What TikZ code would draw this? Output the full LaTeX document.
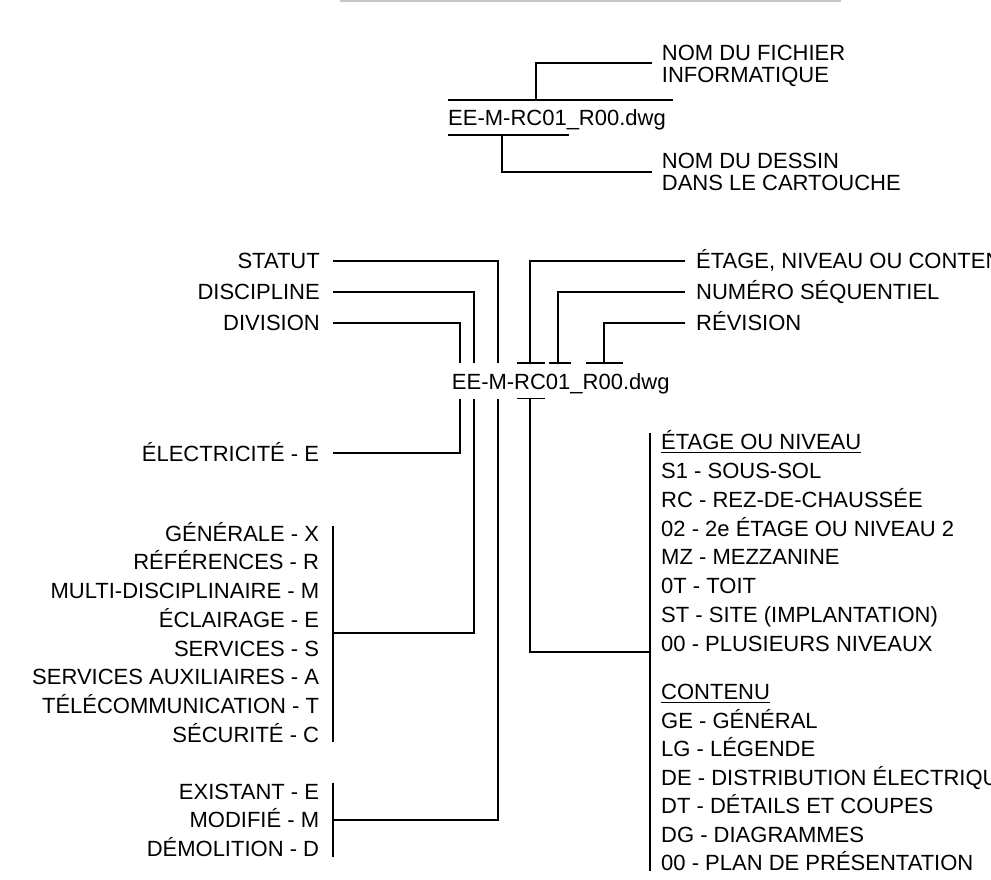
\documentclass[tikz,border=0pt]{standalone}
\usepackage{fontspec}
\setmainfont{Liberation Sans}
\begin{document}
\begin{tikzpicture}[x=1pt,y=-1pt,
  lbl/.style={font=\fontsize{22}{26}\selectfont, inner sep=0pt, anchor=base west, text=black},
  lblr/.style={lbl, anchor=base east},
  ln/.style={line width=1.8pt, line join=miter, draw=black},
  uline/.style={line width=1.3pt, draw=black},
  greyrule/.style={line width=2pt, draw=black!22}]
\useasboundingbox (0,0) rectangle (991,879);
\clip (0,0) rectangle (991,879);

% top rule
\coordinate (gr1) at (340,1); \coordinate (gr2) at (841,1);
\draw[greyrule] (gr1) -- (gr2);

% ---------- top section ----------
\node[lbl] (fnA) at (448,125.7) {EE-M-RC01\_R00.dwg};
\coordinate (ta1) at (448,100);   \coordinate (ta2) at (672.7,100);
\coordinate (tb1) at (448,134.7); \coordinate (tb2) at (569.3,134.7);
\draw[ln] (ta1) -- (ta2);
\draw[ln] (tb1) -- (tb2);
\node[lbl] (nomf1) at (661.7,60) {NOM DU FICHIER};
\node[lbl] (nomf2) at (661.7,82) {INFORMATIQUE};
\node[lbl] (nomd1) at (661.7,168.3) {NOM DU DESSIN};
\node[lbl] (nomd2) at (661.7,190) {DANS LE CARTOUCHE};
\coordinate (tf) at (535.7,100);  \coordinate (tfe) at (651.7,62.7);
\coordinate (td) at (502.3,134.7); \coordinate (tde) at (651.7,172.3);
\draw[ln] (tf) |- (tfe);
\draw[ln] (td) |- (tde);

% ---------- middle section ----------
\node[lbl] (fnB) at (451.7,389.3) {EE-M-RC01\_R00.dwg};

\node[lblr] (statut) at (320,268) {STATUT};
\node[lblr] (discipline) at (320,299) {DISCIPLINE};
\node[lblr] (division) at (320,330.5) {DIVISION};
\node[lbl] (etagenc) at (696,268) {ÉTAGE, NIVEAU OU CONTENU};
\node[lbl] (numseq) at (696,299) {NUMÉRO SÉQUENTIEL};
\node[lbl] (revision) at (696,330.5) {RÉVISION};

% left connectors above
\coordinate (sA) at (333.3,260.7); \coordinate (sB) at (498,363.3);
\coordinate (dA) at (333.3,291.7); \coordinate (dB) at (474.3,363.3);
\coordinate (vA) at (333.3,323.3); \coordinate (vB) at (460,363.3);
\draw[ln] (sA) -| (sB);
\draw[ln] (dA) -| (dB);
\draw[ln] (vA) -| (vB);

% right connectors above
\coordinate (eA) at (685,260.7); \coordinate (eB) at (530,363.3);
\coordinate (nA) at (685,291.7); \coordinate (nB) at (558.3,363.3);
\coordinate (rA) at (685,323.3); \coordinate (rB) at (604,363.3);
\draw[ln] (eA) -| (eB);
\draw[ln] (nA) -| (nB);
\draw[ln] (rA) -| (rB);
\coordinate (k1a) at (517.3,363.3); \coordinate (k1b) at (545,363.3);
\coordinate (k2a) at (549.3,363.3); \coordinate (k2b) at (570.7,363.3);
\coordinate (k3a) at (586,363.3);   \coordinate (k3b) at (622.7,363.3);
\draw[ln] (k1a) -- (k1b);
\draw[ln] (k2a) -- (k2b);
\draw[ln] (k3a) -- (k3b);

% below the file name
\coordinate (k4a) at (517.3,398.5); \coordinate (k4b) at (545,398.5);
\draw[ln] (k4a) -- (k4b);
\coordinate (eC) at (530,398.5);   \coordinate (eD) at (650,651.7);
\coordinate (vC) at (460,398.5);   \coordinate (vD) at (333.3,453.3);
\coordinate (dC) at (474.3,398.5); \coordinate (dD) at (333.3,633);
\coordinate (sC) at (498,398.5);   \coordinate (sD) at (333.3,820);
\draw[ln] (eC) |- (eD);
\draw[ln] (vC) |- (vD);
\draw[ln] (dC) |- (dD);
\draw[ln] (sC) |- (sD);

% brackets
\coordinate (b1a) at (333.3,526);   \coordinate (b1b) at (333.3,741.7);
\coordinate (b2a) at (333.3,783.3); \coordinate (b2b) at (333.3,856.7);
\coordinate (b3a) at (650,433.3);   \coordinate (b3b) at (650,870.7);
\draw[ln] (b1a) -- (b1b);
\draw[ln] (b2a) -- (b2b);
\draw[ln] (b3a) -- (b3b);

% left lists
\node[lblr] (elec) at (319.3,461) {ÉLECTRICITÉ - E};

\node[lblr] (l1) at (319.3,541.2) {GÉNÉRALE - X};
\node[lblr] (l2) at (319.3,569.9) {RÉFÉRENCES - R};
\node[lblr] (l3) at (319.3,598.6) {MULTI-DISCIPLINAIRE - M};
\node[lblr] (l4) at (319.3,627.3) {ÉCLAIRAGE - E};
\node[lblr] (l5) at (319.3,656) {SERVICES - S};
\node[lblr] (l6) at (319.3,684.7) {SERVICES AUXILIAIRES - A};
\node[lblr] (l7) at (319.3,713.4) {TÉLÉCOMMUNICATION - T};
\node[lblr] (l8) at (319.3,742.1) {SÉCURITÉ - C};

\node[lblr] (m1) at (319.3,799.6) {EXISTANT - E};
\node[lblr] (m2) at (319.3,827.9) {MODIFIÉ - M};
\node[lblr] (m3) at (319.3,856.2) {DÉMOLITION - D};

% right lists
\node[lbl] (h1) at (661,449.6) {ÉTAGE OU NIVEAU};
\draw[uline] ([yshift=-3pt]h1.base west) -- ([yshift=-3pt]h1.base east);
\node[lbl] (r1) at (661,478.4) {S1 - SOUS-SOL};
\node[lbl] (r2) at (661,507.2) {RC - REZ-DE-CHAUSSÉE};
\node[lbl] (r3) at (661,536) {02 - 2e ÉTAGE OU NIVEAU 2};
\node[lbl] (r4) at (661,564.8) {MZ - MEZZANINE};
\node[lbl] (r5) at (661,593.6) {0T - TOIT};
\node[lbl] (r6) at (661,622.4) {ST - SITE (IMPLANTATION)};
\node[lbl] (r7) at (661,651.2) {00 - PLUSIEURS NIVEAUX};

\node[lbl] (h2) at (661,699.6) {CONTENU};
\draw[uline] ([yshift=-3pt]h2.base west) -- ([yshift=-3pt]h2.base east);
\node[lbl] (c1) at (661,728.1) {GE - GÉNÉRAL};
\node[lbl] (c2) at (661,756.6) {LG - LÉGENDE};
\node[lbl] (c3) at (661,785.1) {DE - DISTRIBUTION ÉLECTRIQUE};
\node[lbl] (c4) at (661,813.6) {DT - DÉTAILS ET COUPES};
\node[lbl] (c5) at (661,842.1) {DG - DIAGRAMMES};
\node[lbl] (c6) at (661,870.6) {00 - PLAN DE PRÉSENTATION};
\end{tikzpicture}
\end{document}
